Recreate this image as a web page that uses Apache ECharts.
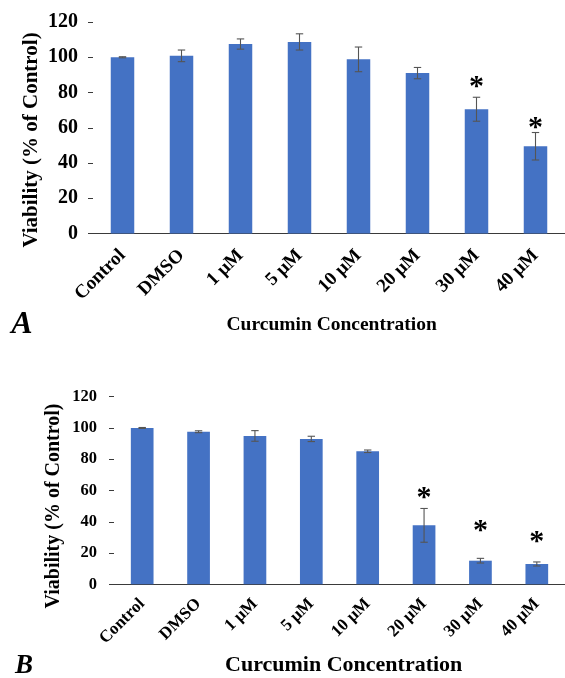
<!DOCTYPE html>
<html>
<head>
<meta charset="utf-8">
<script src="https://cdn.jsdelivr.net/npm/echarts@6/dist/echarts.min.js"></script>
<style>html,body{margin:0;padding:0;background:#fff;}#c{width:565px;height:678px;}</style>
</head>
<body>
<div id="c"></div>
<script>
const categories = ['Control', 'DMSO', '1 μM', '5 μM', '10 μM', '20 μM', '30 μM', '40 μM'];
const yMin = 0, yMax = 120, yStep = 20;

// Panel A
const valuesA = [100, 100.8, 107.5, 108.7, 98.8, 91, 70.5, 49.5];
const errorsA = [0.3, 3.3, 2.9, 4.6, 7, 3.2, 6.8, 7.8];
const starsA  = [null, null, null, null, null, null, 86, 62.5];

// Panel B
const valuesB = [100, 97.6, 94.9, 93, 85.1, 37.7, 15.1, 13];
const errorsB = [0.3, 0.6, 3.4, 1.7, 0.8, 10.8, 1.5, 1.3];
const starsB  = [null, null, null, null, null, 58.2, 37.5, 30.1];

const SERIF = '"Liberation Serif", "Times New Roman", serif';
const BLUE = '#4472C4';
const ERR = '#555555';
const AXIS = '#3a3a3a';

function errRender(params, api) {
  const i = api.value(0), v = api.value(1), e = api.value(2);
  const t = api.coord([i, v + e]);
  const b = api.coord([i, v - e]);
  const hw = 3.7;
  const st = {stroke: ERR, lineWidth: 1.1};
  return {type: 'group', children: [
    {type: 'line', shape: {x1: t[0], y1: t[1], x2: b[0], y2: b[1]}, style: st},
    {type: 'line', shape: {x1: t[0] - hw, y1: t[1], x2: t[0] + hw, y2: t[1]}, style: st},
    {type: 'line', shape: {x1: b[0] - hw, y1: b[1], x2: b[0] + hw, y2: b[1]}, style: st}
  ]};
}
function starRender(size) {
  return function (params, api) {
    const p = api.coord([api.value(0), api.value(1)]);
    return {type: 'text', x: p[0], y: p[1] + size * 0.17, style: {
      text: '*', fontSize: size, fontWeight: 'bold', fontFamily: SERIF,
      fill: '#000', align: 'center', verticalAlign: 'middle'}};
  };
}
function errData(vals, errs) { return vals.map((v, i) => [i, v, errs[i]]); }
function starData(stars) { return stars.map((s, i) => s == null ? null : [i, s]).filter(d => d); }

function xAxisCfg(grid, fs, margin) {
  return {type: 'category', gridIndex: grid, data: categories,
    axisLine: {lineStyle: {color: AXIS, width: 1}}, axisTick: {show: false},
    axisLabel: {rotate: 45, interval: 0, margin: margin, color: '#000', fontFamily: SERIF, fontWeight: 'bold', fontSize: fs}};
}
function yAxisCfg(grid, fs, margin) {
  return {type: 'value', gridIndex: grid, min: yMin, max: yMax, interval: yStep,
    axisLine: {show: false}, splitLine: {show: false},
    axisTick: {show: true, length: 5, lineStyle: {color: AXIS}},
    axisLabel: {margin: margin, color: '#000', fontFamily: SERIF, fontWeight: 'bold', fontSize: fs}};
}

const chart = echarts.init(document.getElementById('c'), null, {renderer: 'canvas'});
chart.setOption({
  animation: false,
  backgroundColor: '#fff',
  grid: [
    {left: 93, top: 22, width: 476, height: 211.5},
    {left: 114, top: 396.7, width: 460, height: 187.6}
  ],
  xAxis: [xAxisCfg(0, 19, 19), xAxisCfg(1, 17, 17)],
  yAxis: [yAxisCfg(0, 20, 15), yAxisCfg(1, 16.5, 17)],
  series: [
    {type: 'bar', xAxisIndex: 0, yAxisIndex: 0, data: valuesA, barWidth: 23.5, itemStyle: {color: BLUE}},
    {type: 'custom', xAxisIndex: 0, yAxisIndex: 0, data: errData(valuesA, errorsA), renderItem: errRender, encode: {x: 0, y: 1}, z: 5},
    {type: 'custom', xAxisIndex: 0, yAxisIndex: 0, data: starData(starsA), renderItem: starRender(30), encode: {x: 0, y: 1}, z: 5},
    {type: 'bar', xAxisIndex: 1, yAxisIndex: 1, data: valuesB, barWidth: 22.7, itemStyle: {color: BLUE}},
    {type: 'custom', xAxisIndex: 1, yAxisIndex: 1, data: errData(valuesB, errorsB), renderItem: errRender, encode: {x: 0, y: 1}, z: 5},
    {type: 'custom', xAxisIndex: 1, yAxisIndex: 1, data: starData(starsB), renderItem: starRender(30), encode: {x: 0, y: 1}, z: 5}
  ],
  graphic: [
    {type: 'text', x: 31.5, y: 140, rotation: Math.PI / 2, style: {text: 'Viability (% of Control)', fontFamily: SERIF, fontWeight: 'bold', fontSize: 21, fill: '#000', align: 'center', verticalAlign: 'middle'}},
    {type: 'text', x: 331.7, y: 325, style: {text: 'Curcumin Concentration', fontFamily: SERIF, fontWeight: 'bold', fontSize: 19.5, fill: '#000', align: 'center', verticalAlign: 'middle'}},
    {type: 'text', x: 22, y: 325, style: {text: 'A', fontFamily: SERIF, fontWeight: 'bold', fontStyle: 'italic', fontSize: 32, fill: '#000', align: 'center', verticalAlign: 'middle'}},
    {type: 'text', x: 53.5, y: 506, rotation: Math.PI / 2, style: {text: 'Viability (% of Control)', fontFamily: SERIF, fontWeight: 'bold', fontSize: 20, fill: '#000', align: 'center', verticalAlign: 'middle'}},
    {type: 'text', x: 343.7, y: 665.5, style: {text: 'Curcumin Concentration', fontFamily: SERIF, fontWeight: 'bold', fontSize: 22, fill: '#000', align: 'center', verticalAlign: 'middle'}},
    {type: 'text', x: 24, y: 666, style: {text: 'B', fontFamily: SERIF, fontWeight: 'bold', fontStyle: 'italic', fontSize: 27, fill: '#000', align: 'center', verticalAlign: 'middle'}}
  ]
});
</script>
</body>
</html>
